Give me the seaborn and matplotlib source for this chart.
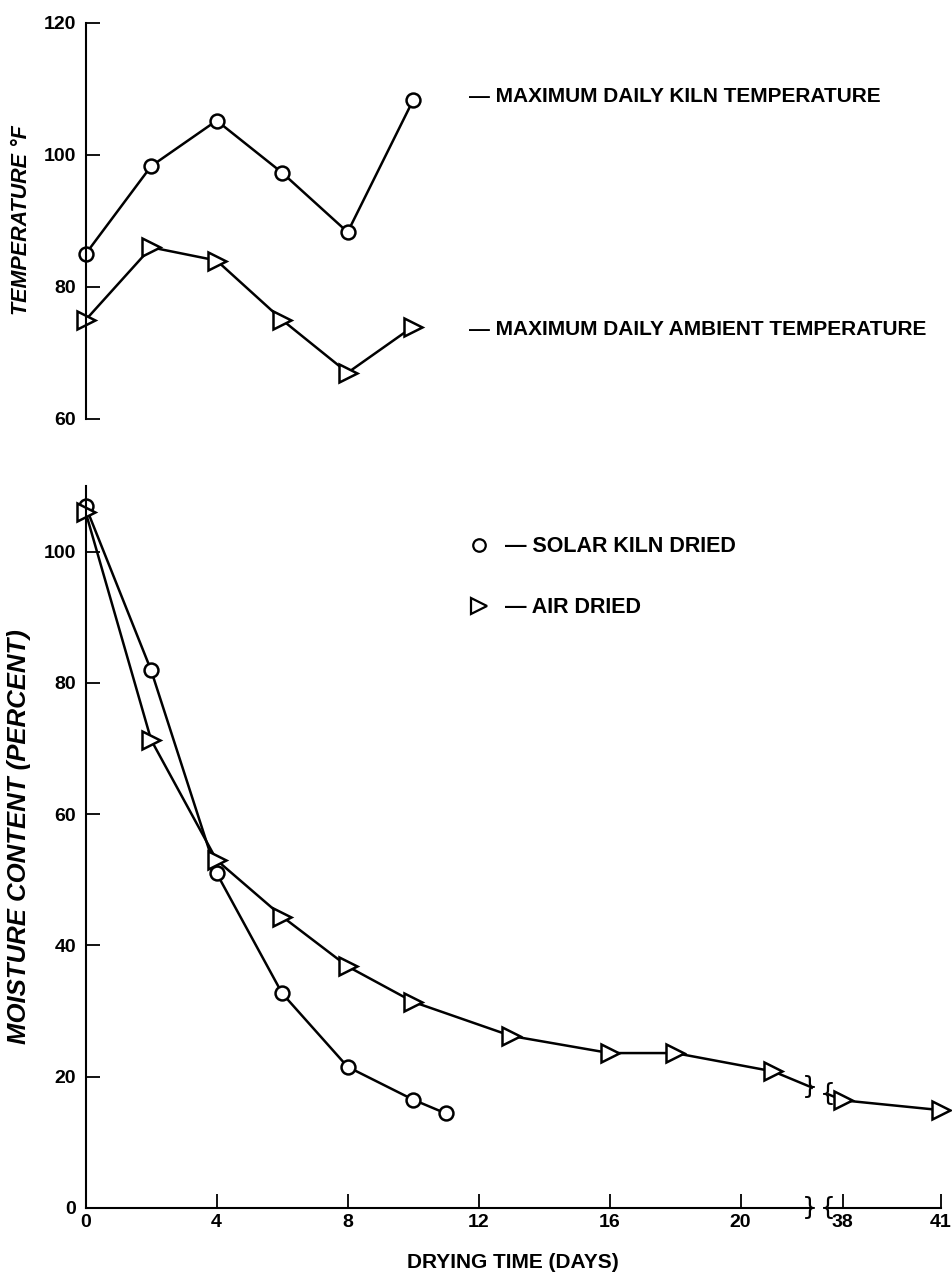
import numpy as np
import matplotlib
matplotlib.use("Agg")
import matplotlib.pyplot as plt
import seaborn as sns
from matplotlib.lines import Line2D

# temperature panel
temp_days = [0, 2, 4, 6, 8, 10]
kiln_temp = [85.0, 98.3, 105.2, 97.3, 88.3, 108.3]
ambient_temp = [75.0, 86.0, 84.0, 75.0, 67.0, 74.0]

# moisture content panel
solar_days = [0, 2, 4, 6, 8, 10, 11]
solar_mc = [106.9, 81.9, 51.0, 32.7, 21.5, 16.5, 14.4]

air_days = [0, 2, 4, 6, 8, 10, 13, 16, 18, 21, 38, 41]
air_mc = [106.0, 71.3, 53.0, 44.4, 36.8, 31.4, 26.2, 23.6, 23.6, 20.8, 16.4, 14.9]

x_ticks = [0, 4, 8, 12, 16, 20, 38, 41]
temp_yticks = [60, 80, 100, 120]
mc_yticks = [0, 20, 40, 60, 80, 100]

# broken x axis: the days between the break and 38 are squeezed out
CUT = 30
GAP = 14.88
BREAK = 22.4


def fwd(x):
    x = np.asarray(x, dtype=float)
    return np.where(x > CUT, x - GAP, x)


def inv(x):
    x = np.asarray(x, dtype=float)
    return np.where(x > BREAK, x + GAP, x)


sns.set_style("ticks")
plt.rcParams["font.family"] = ["Liberation Sans", "DejaVu Sans"]
plt.rcParams["font.weight"] = "bold"
for key in ["text.color", "axes.labelcolor", "xtick.color", "ytick.color", "axes.edgecolor"]:
    plt.rcParams[key] = "black"

fig = plt.figure(figsize=(9.53, 12.73), dpi=100)
ax_bot = fig.add_axes([0.0899, 0.0511, 0.8975, 0.5671])
ax_top = fig.add_axes([0.0899, 0.6709, 0.8975, 0.3111], sharex=ax_bot)
ax_bot.set_xscale("function", functions=(fwd, inv))

line_kw = dict(color="black", linewidth=1.8, markerfacecolor="white",
               markeredgecolor="black", markeredgewidth=1.8, clip_on=False,
               errorbar=None)

# top panel
sns.lineplot(x=temp_days, y=kiln_temp, ax=ax_top, marker="o", markersize=10, **line_kw)
sns.lineplot(x=temp_days, y=ambient_temp, ax=ax_top, marker=">", markersize=13, **line_kw)

ax_top.set_ylim(60, 120)
ax_top.set_yticks(temp_yticks)
for s in ["top", "right", "bottom"]:
    ax_top.spines[s].set_visible(False)
ax_top.spines["left"].set_linewidth(1.5)
ax_top.tick_params(axis="x", bottom=False, labelbottom=False)
ax_top.tick_params(axis="y", direction="in", length=10, width=1.3, labelsize=14, pad=7)
ax_top.set_ylabel("TEMPERATURE °F", fontsize=15.5, fontweight="bold", fontstyle="italic")
ax_top.yaxis.set_label_coords(0.034, 0.827, transform=fig.transFigure)

ax_top.text(11.7, 108.8, "— MAXIMUM DAILY KILN TEMPERATURE", ha="left", va="center",
            fontsize=15, fontweight="bold")
ax_top.text(11.7, 73.5, "— MAXIMUM DAILY AMBIENT TEMPERATURE", ha="left", va="center",
            fontsize=15, fontweight="bold")

# bottom panel
sns.lineplot(x=solar_days, y=solar_mc, ax=ax_bot, marker="o", markersize=10, **line_kw)
sns.lineplot(x=air_days, y=air_mc, ax=ax_bot, marker=">", markersize=13, **line_kw)

ax_bot.set_xlim(0, 41)
ax_bot.set_ylim(0, 110)
ax_bot.set_xticks(x_ticks)
ax_bot.set_xticklabels([str(t) for t in x_ticks])
ax_bot.set_yticks(mc_yticks)
for s in ["top", "right"]:
    ax_bot.spines[s].set_visible(False)
for s in ["left", "bottom"]:
    ax_bot.spines[s].set_linewidth(1.5)
ax_bot.tick_params(axis="both", direction="in", length=10, width=1.3, labelsize=14)
ax_bot.tick_params(axis="y", pad=7)
ax_bot.tick_params(axis="x", pad=4)
ax_bot.set_xlabel("DRYING TIME (DAYS)", fontsize=15, fontweight="bold", labelpad=16)
ax_bot.set_ylabel("MOISTURE CONTENT (PERCENT)", fontsize=18.5, fontweight="bold",
                  fontstyle="italic")
ax_bot.yaxis.set_label_coords(0.033, 0.3425, transform=fig.transFigure)

# break marks on the axis and on the air dried curve
ax_bot.axvspan(22.2, 22.6, ymin=-0.01, ymax=1, color="white", zorder=3, clip_on=False)
air_pos = fwd(air_days)
for bx, ch in [(22.12, "}"), (22.68, "{")]:
    by = np.interp(bx, air_pos, air_mc)
    ax_bot.text(bx, by, ch, ha="center", va="center", fontsize=18,
                family="DejaVu Sans", fontweight="normal", zorder=5)
    ax_bot.text(bx, 0, ch, ha="center", va="center", fontsize=18,
                family="DejaVu Sans", fontweight="normal", zorder=5, clip_on=False)

handles = [
    Line2D([], [], marker="o", ls="none", mfc="white", mec="black", ms=9, mew=1.6),
    Line2D([], [], marker=">", ls="none", mfc="white", mec="black", ms=11, mew=1.6),
]
ax_bot.legend(handles, ["— SOLAR KILN DRIED", "— AIR DRIED"], loc="upper left",
              bbox_to_anchor=(0.491, 0.5786), bbox_transform=fig.transFigure,
              frameon=False, fontsize=15.5, handlelength=1.0, handletextpad=0.7,
              labelspacing=1.85, borderpad=0, borderaxespad=0)

fig.savefig("out.png", dpi=100)
